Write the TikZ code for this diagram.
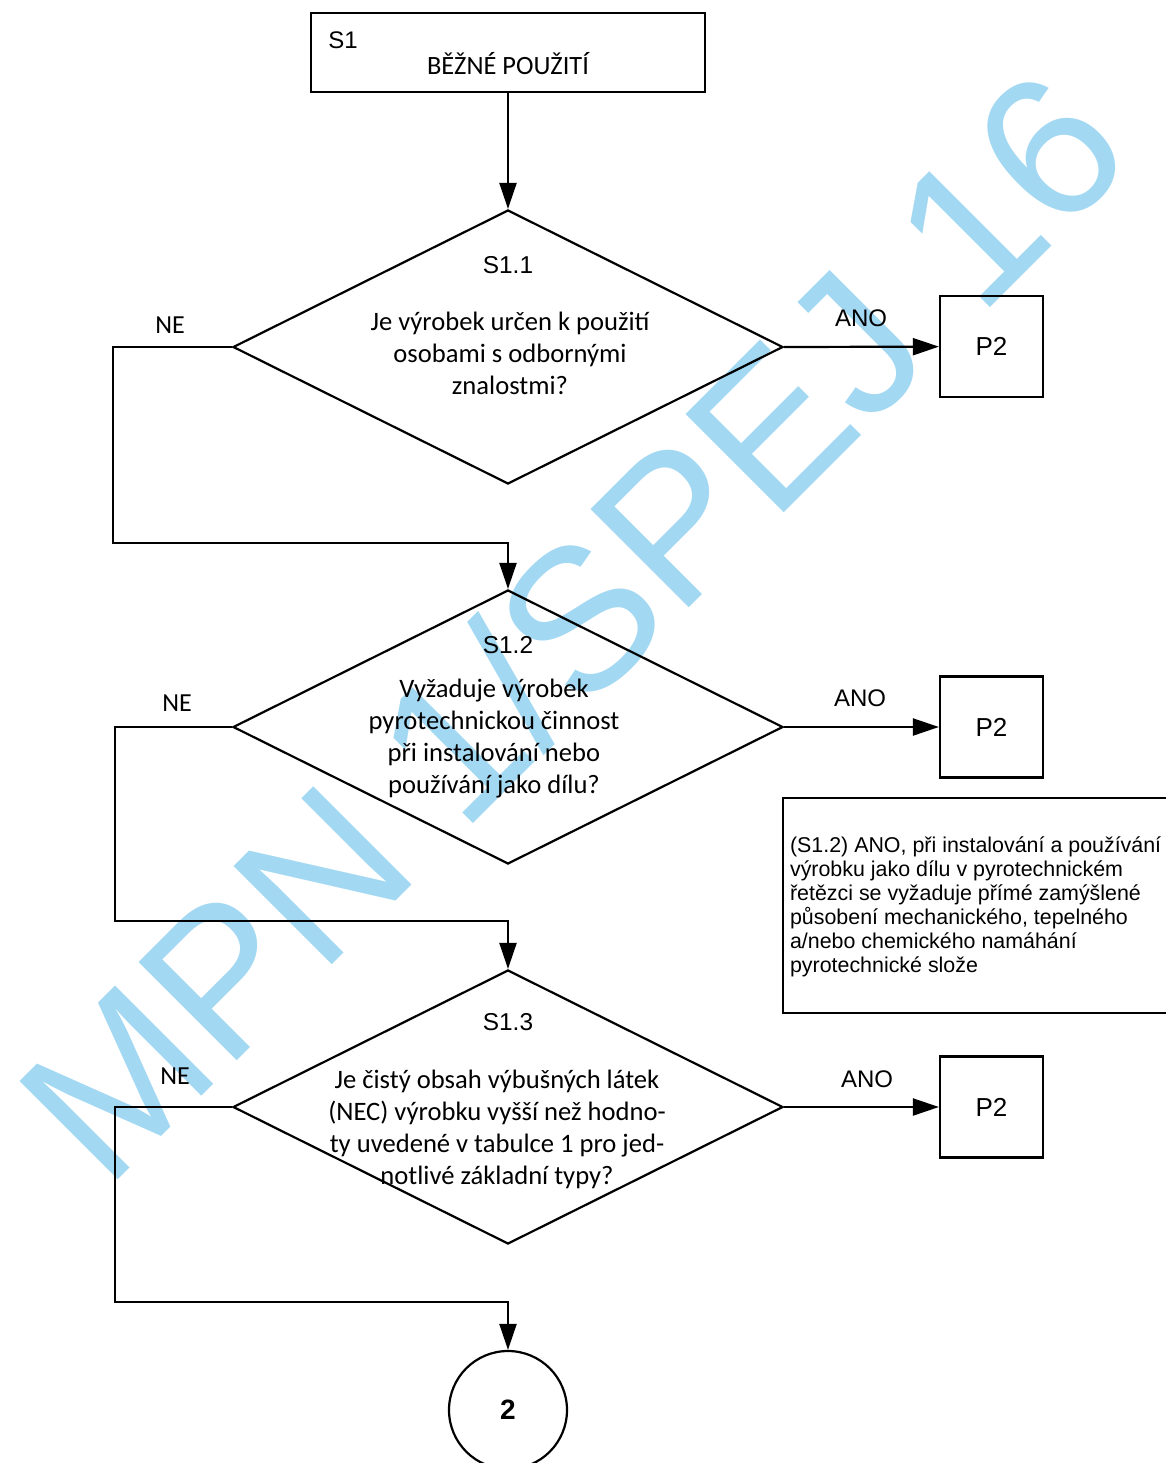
\documentclass[tikz,border=0pt]{standalone}
\usepackage{fontspec}
\setmainfont{Carlito}
\newfontfamily\arialf{Liberation Sans}
\usepackage{tikz}
\usetikzlibrary{shapes.geometric,arrows.meta,positioning,calc}
\usepackage{xcolor}
\definecolor{wmblue}{RGB}{163,216,243}
\tikzset{
  box/.style ={draw,line width=1.1pt,inner sep=0pt},
  dec/.style ={draw,line width=1.1pt,diamond,minimum width=275pt,minimum height=137pt,inner sep=0pt},
  tgt/.style ={box,minimum width=51.5pt,minimum height=50.5pt,font=\arialf\fontsize{13}{15}\selectfont},
  arr/.style ={line width=1.1pt,-{Triangle[length=13pt,width=8.5pt]}},
  sid/.style ={font=\arialf\fontsize{12.2}{14}\selectfont},
  yn/.style  ={font=\arialf\fontsize{12}{14}\selectfont},
  nel/.style ={font=\fontsize{13}{15}\selectfont},
  qtxt/.style={align=center,font=\fontsize{13.3}{16}\selectfont},
  ntxt/.style={align=left,font=\arialf\fontsize{10.7}{12}\selectfont},
}

\begin{document}
\begin{tikzpicture}[x=0.5pt,y=-0.5pt]
  \useasboundingbox (0,0) rectangle (1166,1463);
  \node[rotate=45,text=wmblue,font=\arialf\fontsize{101}{101}\selectfont] (wm) at (571,624) {MPN 1/SPEJ 16};

  \node[box,minimum width=197pt,minimum height=39.5pt] (s1) at (508,52.5) {};
  \node[sid,font=\arialf\fontsize{12}{14}\selectfont] (s1id) at (343,40) {S1};
  \node[font=\fontsize{13.2}{15}\selectfont] (s1t) at (508,64) {BĚŽNÉ POUŽITÍ};

  \node[dec] (d1) at (508,347) {};
  \node[sid] (d1id) at (508,265) {S1.1};
  \node[qtxt] (d1t) at (510,353) {Je výrobek určen k použití\\ osobami s odbornými\\ znalostmi?};
  \node[tgt] (p2a) at (991.5,346.5) {P2};
  \node[yn] (ano1) at (861,318) {ANO};
  \node[nel] (ne1l) at (170,325) {NE};
  \coordinate (ne1) at (113,543);

  \node[dec] (d2) at (508,727) {};
  \node[sid] (d2id) at (508,645) {S1.2};
  \node[qtxt] (d2t) at (494,739) {Vyžaduje výrobek\\ pyrotechnickou činnost\\ při instalování nebo\\ používání jako dílu?};
  \node[tgt] (p2b) at (991.5,727) {P2};
  \node[yn] (ano2) at (860,698) {ANO};
  \node[nel] (ne2l) at (177,703) {NE};
  \coordinate (ne2) at (115,921);

  \node[box,minimum width=210pt,minimum height=107.5pt] (note) at (993,905.5) {};
  \node[ntxt,anchor=west] (notet) at (783,907) {(S1.2) ANO, při instalování a používání\\ výrobku jako dílu v pyrotechnickém\\ řetězci se vyžaduje přímé zamýšlené\\ působení mechanického, tepelného\\ a/nebo chemického namáhání\\ pyrotechnické slože};

  \node[dec] (d3) at (508,1107) {};
  \node[sid] (d3id) at (508,1022) {S1.3};
  \node[qtxt] (d3t) at (497,1129) {Je čistý obsah výbušných látek\\ (NEC) výrobku vyšší než hodno-\\ ty uvedené v tabulce 1 pro jed-\\ notlivé základní typy?};
  \node[tgt] (p2c) at (991.5,1107) {P2};
  \node[yn] (ano3) at (867,1079) {ANO};
  \node[nel] (ne3l) at (175,1076) {NE};
  \coordinate (ne3) at (115,1302);

  \node[draw,circle,line width=1.1pt,minimum size=59pt,inner sep=0pt,font=\arialf\bfseries\fontsize{14}{16}\selectfont] (c2) at (508,1410) {2};

  \draw[arr] (s1) -- (d1.north);
  \draw[arr] (d1.east) -- (p2a);
  \draw[arr] (d1.west) -| (ne1) -| (d2.north);
  \draw[arr] (d2.east) -- (p2b);
  \draw[arr] (d2.west) -| (ne2) -| (d3.north);
  \draw[arr] (d3.east) -- (p2c);
  \draw[arr] (d3.west) -| (ne3) -| (c2);
\end{tikzpicture}
\end{document}
